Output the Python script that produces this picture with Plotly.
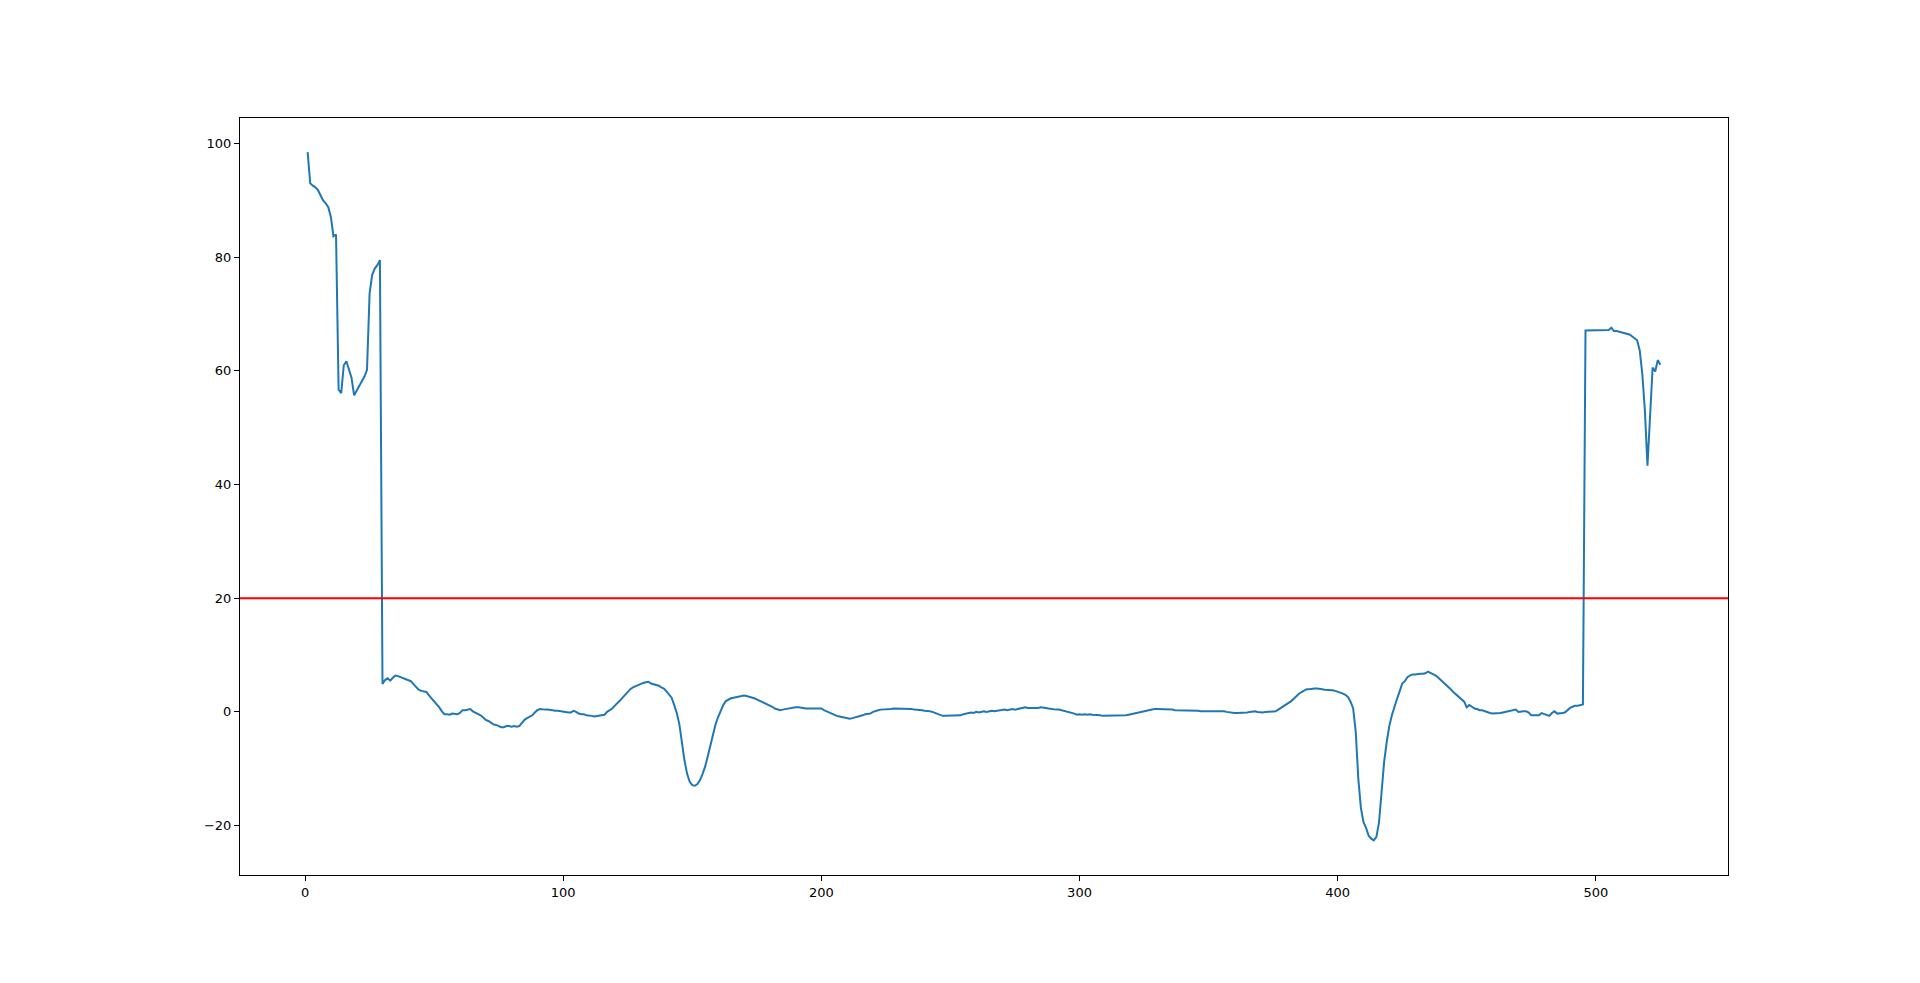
import plotly.graph_objects as go

# Values, x = 1..525
values = [
    98.5, 93.0, 92.6, 92.3, 91.8, 91.0, 90.0, 89.5, 88.8, 87.1,
    83.7, 84.0, 56.7, 56.1, 61.0, 61.7, 60.3, 58.8, 55.7, 56.5,
    57.4, 58.3, 59.0, 60.2, 73.6, 76.9, 78.0, 78.6, 79.5, 4.9,
    5.6, 5.9, 5.5, 6.0, 6.4, 6.3, 6.1, 5.9, 5.8, 5.6,
    5.4, 4.9, 4.3, 3.9, 3.7, 3.6, 3.5, 2.9, 2.4, 1.9,
    1.4, 0.8, 0.1, -0.4, -0.4, -0.5, -0.3, -0.3, -0.4, -0.2,
    0.3, 0.3, 0.4, 0.5, 0.1, -0.1, -0.3, -0.6, -1.0, -1.4,
    -1.6, -1.9, -2.2, -2.3, -2.5, -2.7, -2.7, -2.5, -2.5, -2.6,
    -2.5, -2.6, -2.5, -2.0, -1.4, -1.1, -0.9, -0.6, -0.1, 0.3,
    0.5, 0.4, 0.4, 0.4, 0.3, 0.3, 0.2, 0.2, 0.1, 0.1,
    0.0, -0.1, -0.1, 0.2, 0.0, -0.3, -0.4, -0.4, -0.6, -0.6,
    -0.7, -0.8, -0.7, -0.7, -0.6, -0.5, 0.0, 0.3, 0.6, 1.1,
    1.5, 2.0, 2.5, 3.0, 3.6, 4.0, 4.3, 4.5, 4.8, 5.0,
    5.1, 5.2, 5.3, 5.0, 4.9, 4.8, 4.6, 4.3, 4.1, 3.6,
    3.1, 2.5, 1.2, -0.2, -2.2, -5.5, -8.6, -10.9, -12.3, -12.9,
    -13.0, -12.7, -12.0, -10.9, -9.6, -7.8, -5.8, -3.8, -2.2, -0.9,
    0.3, 1.2, 1.9, 2.2, 2.4, 2.5, 2.6, 2.8, 2.9, 2.9,
    2.8, 2.7, 2.6, 2.4, 2.2, 2.0, 1.8, 1.6, 1.3, 1.1,
    0.9, 0.6, 0.4, 0.3, 0.4, 0.5, 0.6, 0.7, 0.7, 0.8,
    0.8, 0.8, 0.7, 0.6, 0.6, 0.6, 0.6, 0.6, 0.6, 0.6,
    0.3, 0.1, -0.1, -0.4, -0.6, -0.7, -0.8, -0.9, -1.1, -1.2,
    -1.2, -1.1, -1.0, -0.9, -0.7, -0.6, -0.4, -0.3, -0.3, 0.0,
    0.2, 0.3, 0.4, 0.4, 0.5, 0.5, 0.5, 0.6, 0.6, 0.6,
    0.6, 0.6, 0.6, 0.5, 0.5, 0.4, 0.4, 0.3, 0.3, 0.2,
    0.2, 0.1, 0.0, -0.2, -0.4, -0.6, -0.7, -0.7, -0.7, -0.6,
    -0.6, -0.7, -0.6, -0.6, -0.4, -0.3, -0.1, -0.1, -0.2, 0.0,
    -0.1, 0.0, 0.1, 0.0, 0.1, 0.2, 0.1, 0.2, 0.2, 0.3,
    0.4, 0.3, 0.4, 0.5, 0.4, 0.5, 0.7, 0.8, 0.8, 0.7,
    0.7, 0.7, 0.6, 0.7, 0.8, 0.8, 0.7, 0.6, 0.5, 0.5,
    0.4, 0.4, 0.3, 0.2, 0.0, -0.1, -0.1, -0.3, -0.5, -0.4,
    -0.5, -0.4, -0.5, -0.4, -0.5, -0.5, -0.6, -0.6, -0.7, -0.7,
    -0.7, -0.6, -0.7, -0.7, -0.6, -0.7, -0.7, -0.6, -0.5, -0.4,
    -0.3, -0.1, 0.0, 0.1, 0.2, 0.3, 0.3, 0.4, 0.5, 0.5,
    0.5, 0.4, 0.4, 0.4, 0.5, 0.4, 0.3, 0.3, 0.2, 0.2,
    0.3, 0.2, 0.2, 0.3, 0.3, 0.2, 0.1, 0.1, 0.1, 0.2,
    0.2, 0.2, 0.2, 0.1, 0.1, 0.1, 0.0, -0.1, -0.2, -0.2,
    -0.2, -0.2, -0.2, -0.1, -0.1, 0.0, 0.1, 0.1, 0.0, -0.1,
    -0.1, 0.0, 0.0, 0.1, 0.1, 0.1, 0.4, 0.7, 0.9, 1.2,
    1.5, 1.9, 2.3, 2.8, 3.2, 3.5, 3.8, 4.0, 4.0, 4.1,
    4.1, 4.1, 4.1, 4.0, 3.9, 3.9, 3.9, 3.8, 3.7, 3.6,
    3.4, 3.2, 3.0, 2.6, 1.8, 0.6, -3.5, -11.8, -16.9, -19.4,
    -20.4, -21.8, -22.3, -22.6, -22.0, -19.5, -14.0, -8.8, -5.3, -2.5,
    -0.6, 1.0, 2.3, 3.6, 5.0, 5.4, 6.1, 6.4, 6.6, 6.6,
    6.7, 6.7, 6.7, 6.8, 7.1, 6.9, 6.7, 6.4, 6.0, 5.6,
    5.2, 4.7, 4.3, 3.9, 3.4, 3.0, 2.5, 2.1, 1.8, 0.8,
    1.2, 0.9, 0.6, 0.5, 0.3, 0.3, 0.1, -0.1, -0.2, -0.3,
    -0.3, -0.2, -0.2, -0.1, 0.0, 0.1, 0.2, 0.3, 0.4, 0.0,
    0.1, 0.1, 0.1, -0.1, -0.6, -0.6, -0.7, -0.6, -0.2, -0.4,
    -0.6, -0.7, -0.2, 0.1, -0.3, -0.3, -0.2, -0.1, 0.3, 0.7,
    0.9, 1.1, 1.1, 1.2, 1.3, 67.1, 67.1, 67.1, 67.2, 67.1,
    67.1, 67.2, 67.1, 67.1, 67.2, 67.6, 67.0, 67.0, 66.9, 66.8,
    66.7, 66.6, 66.4, 66.1, 65.8, 65.4, 63.6, 59.5, 53.1, 43.3,
    51.9, 60.6, 59.9, 61.9, 61.1,
]
x_index = list(range(1, len(values) + 1))
threshold = 20
x_ticks = [0, 100, 200, 300, 400, 500]
y_ticks = [-20, 0, 20, 40, 60, 80, 100]

fig = go.Figure()
fig.add_trace(go.Scatter(
    x=x_index, y=values, mode="lines",
    line=dict(color="#1f77b4", width=2),
    showlegend=False, hoverinfo="skip",
))
fig.add_shape(
    type="line", xref="paper", x0=0, x1=1, yref="y", y0=threshold, y1=threshold,
    line=dict(color="red", width=2), layer="above",
)

axis_common = dict(
    showgrid=False, zeroline=False, showline=True, linecolor="black",
    linewidth=1, mirror=True, ticks="outside", ticklen=5, tickwidth=1,
    tickcolor="black", tickfont=dict(family="DejaVu Sans", size=13, color="black"),
)
fig.update_xaxes(range=[-25.2, 551.2], tickvals=x_ticks, **axis_common)
fig.update_yaxes(range=[-28.7, 104.5], tickvals=y_ticks, **axis_common)

fig.update_layout(
    width=1904, height=967,
    margin=dict(l=232, r=184, t=110, b=100),
    paper_bgcolor="white", plot_bgcolor="white",
)
fig.write_html("out.html")
